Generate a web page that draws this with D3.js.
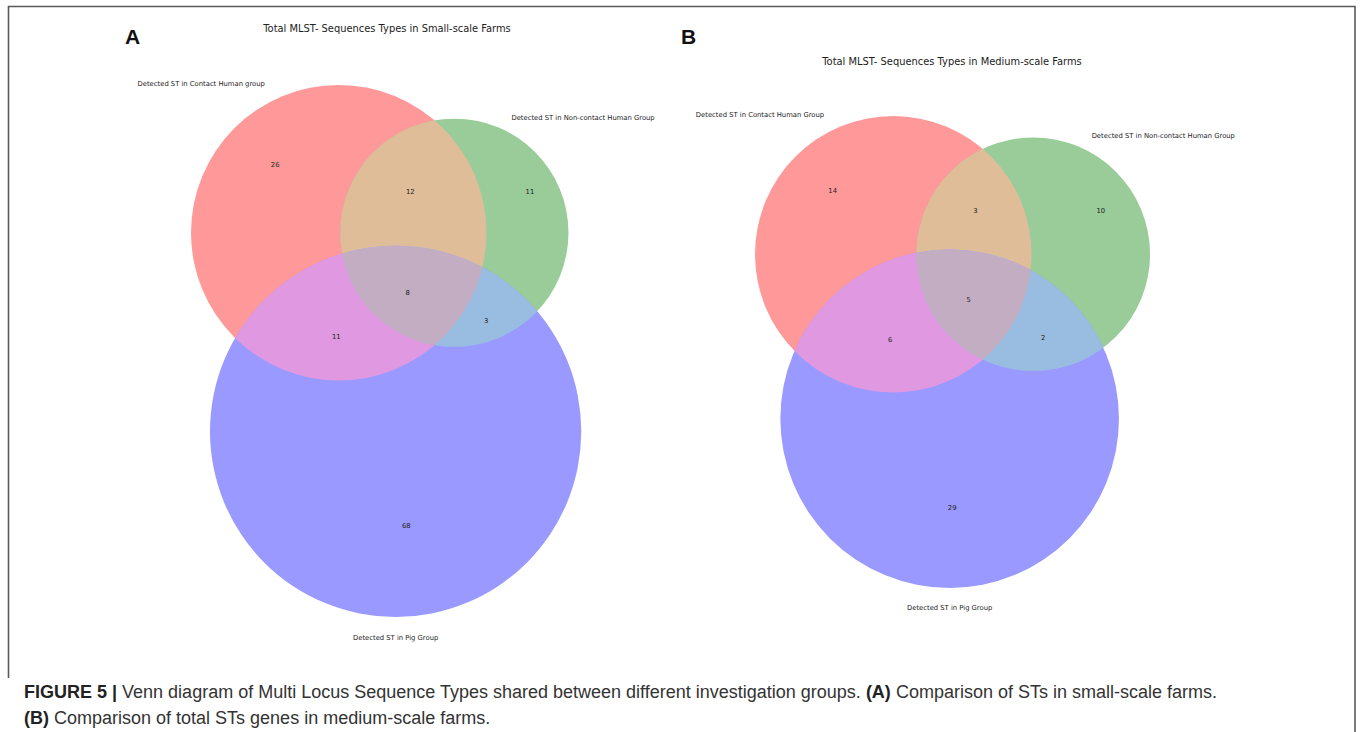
<!DOCTYPE html>
<html>
<head>
<meta charset="utf-8">
<script src="https://cdn.jsdelivr.net/npm/d3@7"></script>
<style>
  body { margin: 0; background: #fff; }
  svg { display: block; }
</style>
</head>
<body>
<div id="figure"></div>
<script>
// region counts, matplotlib_venn order: Abc, aBc, ABc, abC, AbC, aBC, ABC
const smallFarmCounts = [26, 11, 12, 68, 11, 3, 8]
const mediumFarmCounts = [14, 10, 3, 29, 6, 2, 5]

const smallFarmLabels = ["Detected ST in Contact Human group", "Detected ST in Non-contact Human Group", "Detected ST in Pig Group"]
const mediumFarmLabels = ["Detected ST in Contact Human Group", "Detected ST in Non-contact Human Group", "Detected ST in Pig Group"]

const smallFarmTitle = "Total MLST- Sequences Types in Small-scale Farms"
const mediumFarmTitle = "Total MLST- Sequences Types in Medium-scale Farms"

const panelLetters = ["A", "B"]

// red, green, blue at alpha 0.4 on white + the mixed intersection colours
const regionColors = ["#ff9999", "#99cc99", "#e0bd99", "#9999ff", "#e099e0", "#99bde0", "#c2adc2"]

const width = 1360, height = 732

let svg = d3.select("#figure")
    .append("svg")
    .attr("width", width)
    .attr("height", height)

// frame round the figure
svg.append("path")
    .attr("d", "M8.5,678 V6.5 H1355 V732")
    .attr("fill", "none")
    .attr("stroke", "#5a5a5a")
    .attr("stroke-width", 1.6)

function lensArea(r1, r2, d){
    // overlap area of two circles
    if(d >= r1 + r2) return 0
    if(d <= Math.abs(r1 - r2)) return Math.PI * Math.min(r1, r2) ** 2
    let a1 = Math.acos((d*d + r1*r1 - r2*r2) / (2*d*r1))
    let a2 = Math.acos((d*d + r2*r2 - r1*r1) / (2*d*r2))
    let k = Math.sqrt((-d + r1 + r2) * (d + r1 - r2) * (d - r1 + r2) * (d + r1 + r2))
    return r1*r1*a1 + r2*r2*a2 - 0.5*k
}

function solveDistance(r1, r2, area){
    // bisection, area gets smaller as the distance grows
    let lo = Math.abs(r1 - r2), hi = r1 + r2
    for(let i = 0; i < 60; i++){
        let mid = (lo + hi) / 2
        if(lensArea(r1, r2, mid) > area) lo = mid
        else hi = mid
    }
    return (lo + hi) / 2
}

function vennLayout(c){
    let sizes = [c[0] + c[2] + c[4] + c[6], c[1] + c[2] + c[5] + c[6], c[3] + c[4] + c[5] + c[6]]
    let r = sizes.map(s => Math.sqrt(s / Math.PI))
    let dAB = solveDistance(r[0], r[1], c[2] + c[6])
    let dAC = solveDistance(r[0], r[2], c[4] + c[6])
    let dBC = solveDistance(r[1], r[2], c[5] + c[6])
    let xC = (dAB*dAB + dAC*dAC - dBC*dBC) / (2*dAB)
    let yC = Math.sqrt(Math.max(0, dAC*dAC - xC*xC))
    return [
        {x: 0, y: 0, r: r[0]},
        {x: dAB, y: 0, r: r[1]},
        {x: xC, y: yC, r: r[2]}
    ]
}

function labelSpots(pc){
    // like matplotlib_venn: mean of the region's arc midpoints, weighted by arc angle
    let spots = d3.range(7).map(() => ({x: 0, y: 0, w: 0}))
    let TAU = 2 * Math.PI
    pc.forEach(function(c, i){
        let angles = []
        pc.forEach(function(o, j){
            if(j === i) return
            let dx = o.x - c.x, dy = o.y - c.y, d = Math.hypot(dx, dy)
            if(d >= c.r + o.r || d <= Math.abs(c.r - o.r)) return
            let th = Math.atan2(dy, dx)
            let al = Math.acos((d*d + c.r*c.r - o.r*o.r) / (2*d*c.r))
            angles.push(th - al, th + al)
        })
        angles = angles.map(a => ((a % TAU) + TAU) % TAU).sort((a, b) => a - b)
        if(angles.length === 0) angles = [0]
        angles.forEach(function(a, n){
            let b = n + 1 < angles.length ? angles[n + 1] : angles[0] + TAU
            let mid = (a + b) / 2
            let mx = c.x + c.r * Math.cos(mid), my = c.y + c.r * Math.sin(mid)
            let bits = 0
            pc.forEach(function(o, j){
                if(j !== i && (mx - o.x)**2 + (my - o.y)**2 < o.r*o.r) bits |= (1 << j)
            })
            let deg = (b - a) * 180 / Math.PI
            ;[bits | (1 << i), bits].forEach(function(code){
                if(code > 0){
                    spots[code - 1].x += mx * deg
                    spots[code - 1].y += my * deg
                    spots[code - 1].w += deg
                }
            })
        })
    })
    return spots.map(s => ({x: s.x / s.w, y: s.y / s.w}))
}

// where each diagram sits on the page
const panels = [
    {counts: smallFarmCounts, labels: smallFarmLabels, title: smallFarmTitle, letter: panelLetters[0],
     left: 191, top: 85, boxHeight: 532, titleX: 387, titleY: 31.5, letterX: 125, letterY: 44, pigGap: 23},
    {counts: mediumFarmCounts, labels: mediumFarmLabels, title: mediumFarmTitle, letter: panelLetters[1],
     left: 755, top: 116, boxHeight: 472, titleX: 952, titleY: 64.5, letterX: 681, letterY: 44, pigGap: 21.5}
]

panels.forEach(function(p, pi){
    let circles = vennLayout(p.counts)

    let x0 = d3.min(circles, c => c.x - c.r), x1 = d3.max(circles, c => c.x + c.r)
    let y0 = d3.min(circles, c => c.y - c.r), y1 = d3.max(circles, c => c.y + c.r)
    let k = p.boxHeight / (y1 - y0)

    let xScale = d3.scaleLinear().domain([x0, x1]).range([p.left, p.left + k*(x1 - x0)])
    let yScale = d3.scaleLinear().domain([y0, y1]).range([p.top, p.top + p.boxHeight])

    let pc = circles.map(c => ({x: xScale(c.x), y: yScale(c.y), r: c.r * k}))

    let g = svg.append("g")
    let defs = g.append("defs")
    let ids = pc.map((c, i) => "clip" + pi + "_" + i)
    pc.forEach(function(c, i){
        defs.append("clipPath").attr("id", ids[i])
            .append("circle").attr("cx", c.x).attr("cy", c.y).attr("r", c.r)
    })

    function disc(parent, c, fill){
        return parent.append("circle")
            .attr("cx", c.x).attr("cy", c.y).attr("r", c.r)
            .attr("fill", fill)
    }

    // single sets
    disc(g, pc[0], regionColors[0])
    disc(g, pc[1], regionColors[1])
    disc(g, pc[2], regionColors[3])
    // pair overlaps
    disc(g, pc[1], regionColors[2]).attr("clip-path", "url(#" + ids[0] + ")")
    disc(g, pc[2], regionColors[4]).attr("clip-path", "url(#" + ids[0] + ")")
    disc(g, pc[2], regionColors[5]).attr("clip-path", "url(#" + ids[1] + ")")
    // centre
    let gABC = g.append("g").attr("clip-path", "url(#" + ids[0] + ")")
    disc(gABC, pc[2], regionColors[6]).attr("clip-path", "url(#" + ids[1] + ")")

    let spots = labelSpots(pc)
    g.selectAll("text.count")
        .data(p.counts)
        .join("text")
        .attr("class", "count")
        .attr("x", (d, i) => spots[i].x)
        .attr("y", (d, i) => spots[i].y)
        .attr("text-anchor", "middle")
        .attr("dy", "0.35em")
        .attr("font-family", "DejaVu Sans")
        .attr("font-size", 6.8)
        .attr("fill", "#222")
        .text(d => d)

    // set names
    g.append("text")
        .attr("x", pc[0].x - pc[0].r / 2)
        .attr("y", pc[0].y - pc[0].r + 1)
        .attr("text-anchor", "end")
        .attr("font-family", "DejaVu Sans").attr("font-size", 6.8).attr("fill", "#222")
        .text(p.labels[0])
    g.append("text")
        .attr("x", pc[1].x + pc[1].r / 2)
        .attr("y", pc[1].y - pc[1].r + 1)
        .attr("text-anchor", "start")
        .attr("font-family", "DejaVu Sans").attr("font-size", 6.8).attr("fill", "#222")
        .text(p.labels[1])
    g.append("text")
        .attr("x", pc[2].x)
        .attr("y", pc[2].y + pc[2].r + p.pigGap)
        .attr("text-anchor", "middle")
        .attr("font-family", "DejaVu Sans").attr("font-size", 6.8).attr("fill", "#222")
        .text(p.labels[2])

    // title
    g.append("text")
        .attr("x", p.titleX)
        .attr("y", p.titleY)
        .attr("text-anchor", "middle")
        .attr("font-family", "DejaVu Sans").attr("font-size", 9.9).attr("fill", "#222")
        .text(p.title)

    // panel letter
    g.append("text")
        .attr("x", p.letterX)
        .attr("y", p.letterY)
        .attr("font-family", "Liberation Sans, Arial, sans-serif")
        .attr("font-weight", "bold")
        .attr("font-size", 21)
        .attr("fill", "#111")
        .text(p.letter)
})

// caption
let caption = svg.append("g")
    .attr("font-family", "Liberation Sans, Arial, sans-serif")
    .attr("font-size", 18)
    .attr("fill", "#333")

let line1 = caption.append("text").attr("x", 24).attr("y", 698)
line1.append("tspan").attr("font-weight", "bold").attr("fill", "#222").text("FIGURE 5 | ")
line1.append("tspan").text("Venn diagram of Multi Locus Sequence Types shared between different investigation groups. ")
line1.append("tspan").attr("font-weight", "bold").attr("fill", "#222").text("(A)")
line1.append("tspan").text(" Comparison of STs in small-scale farms.")

let line2 = caption.append("text").attr("x", 24).attr("y", 724)
line2.append("tspan").attr("font-weight", "bold").attr("fill", "#222").text("(B)")
line2.append("tspan").text(" Comparison of total STs genes in medium-scale farms.")
</script>
</body>
</html>
